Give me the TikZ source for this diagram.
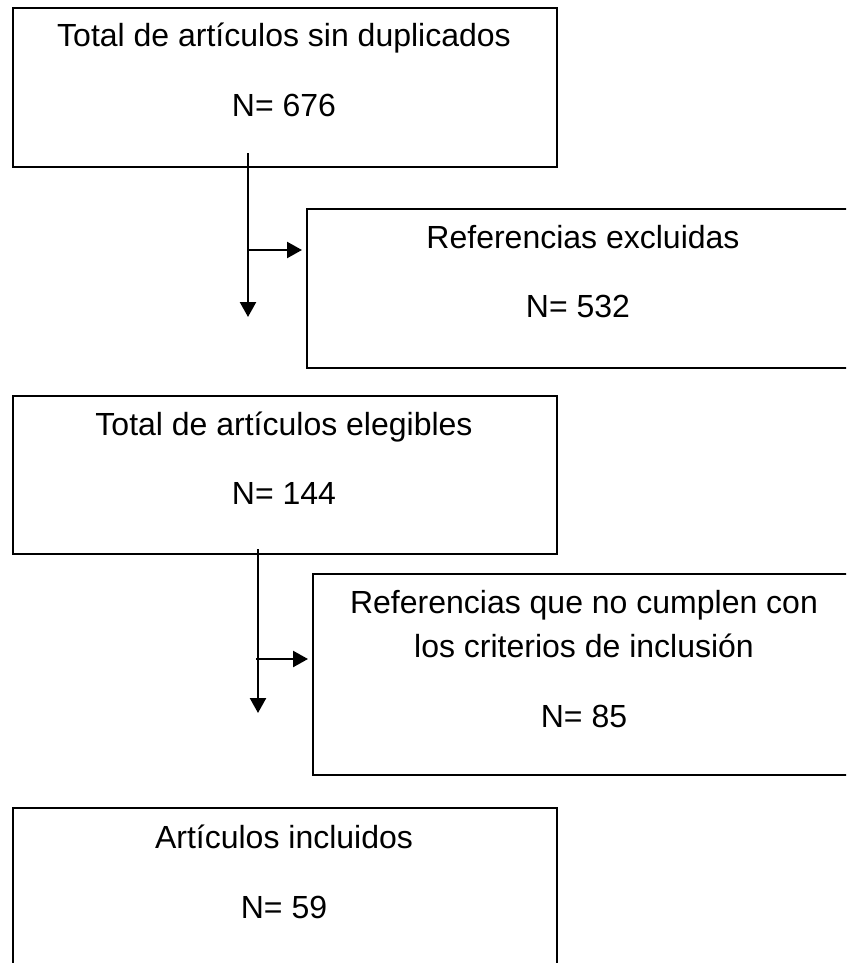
\documentclass[tikz,border=0pt]{standalone}
\usepackage{fontspec}
\setmainfont{Liberation Sans}
\usetikzlibrary{arrows.meta}
\tikzset{
  box/.style={draw=black, line width=1.8pt, fill=none, inner sep=0pt, anchor=north west},
  txt/.style={anchor=base, inner sep=0pt, font=\fontsize{32}{38}\selectfont},
  arr/.style={line width=2.4pt, -{Triangle[length=15pt,width=16pt]}}
}
\begin{document}
\begin{tikzpicture}[x=1pt,y=-1pt]
\useasboundingbox (0,0) rectangle (846,963);
\clip (0,0) rectangle (846,963);
% boxes
\node[box, minimum width=544pt, minimum height=159pt] (b1) at (12,7) {};
\node[box, minimum width=554pt, minimum height=159pt] (b2) at (306,208) {};
\node[box, minimum width=544pt, minimum height=158pt] (b3) at (12,395) {};
\node[box, minimum width=542pt, minimum height=201pt] (b4) at (312,573) {};
\node[box, minimum width=544pt, minimum height=159pt] (b5) at (12,807) {};
% texts
\node[txt] (t1a) at (284,47) {Total de artículos sin duplicados};
\node[txt] (t1b) at (284,117) {N= 676};
\node[txt] (t2a) at (583,248) {Referencias excluidas};
\node[txt] (t2b) at (578,317) {N= 532};
\node[txt] (t3a) at (284,435) {Total de artículos elegibles};
\node[txt] (t3b) at (284,504) {N= 144};
\node[txt] (t4a) at (584,613) {Referencias que no cumplen con};
\node[txt] (t4b) at (584,657) {los criterios de inclusión};
\node[txt] (t4c) at (584,727) {N= 85};
\node[txt] (t5a) at (284,848) {Artículos incluidos};
\node[txt] (t5b) at (284,918) {N= 59};
% connector points
\coordinate (v1s) at (248,153);
\coordinate (v1e) at (248,317);
\coordinate (h1s) at (248,250);
\coordinate (h1e) at (302,250);
\coordinate (v2s) at (258,549);
\coordinate (v2e) at (258,713);
\coordinate (h2s) at (256,659);
\coordinate (h2e) at (308,659);
% connectors
\draw[arr] (v1s) -- (v1e);
\draw[arr] (h1s) -- (h1e);
\draw[arr] (v2s) -- (v2e);
\draw[arr] (h2s) -- (h2e);
\end{tikzpicture}
\end{document}
